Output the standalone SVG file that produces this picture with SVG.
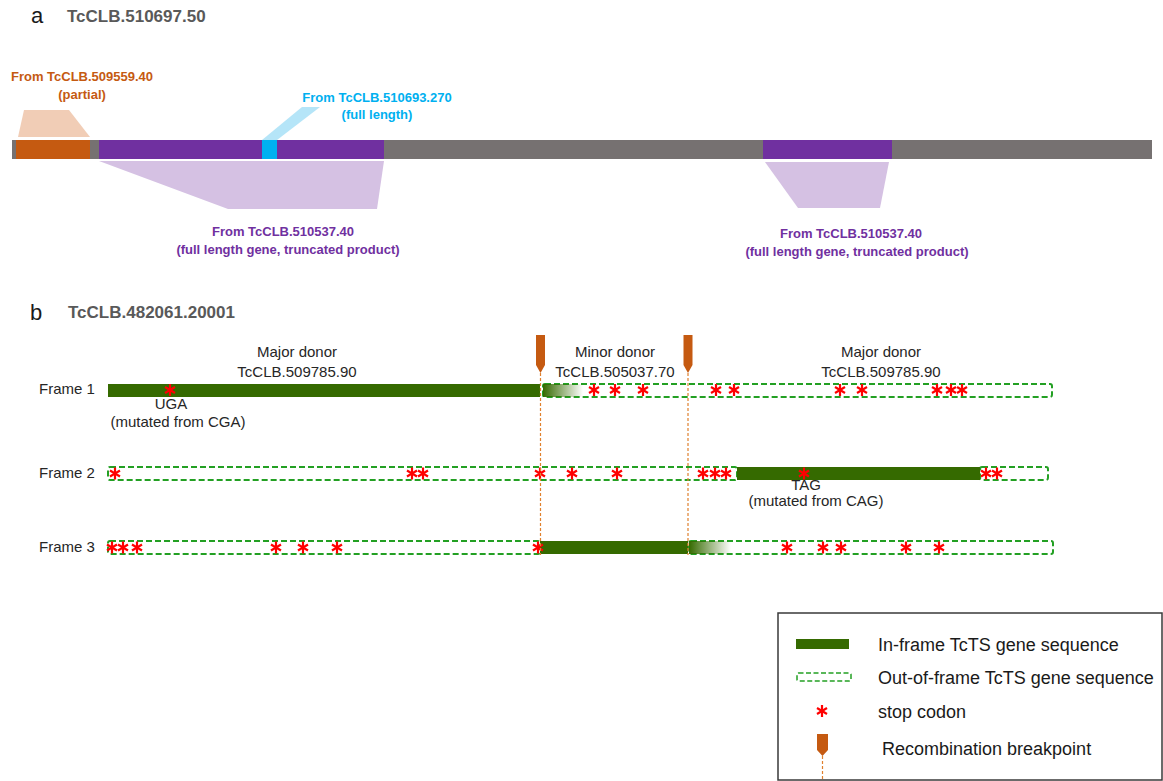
<svg xmlns="http://www.w3.org/2000/svg" xmlns:xlink="http://www.w3.org/1999/xlink" width="1163" height="781" viewBox="0 0 1163 781">
<style>
text{font-family:"Liberation Sans",Arial,sans-serif;}
.lbl{font-size:15px;fill:#262626;}
.big{font-size:22px;fill:#1a1a1a;}
.ttl{font-size:17px;font-weight:bold;fill:#595959;}
.bo{font-size:13px;font-weight:bold;}
.leg{font-size:18px;fill:#1a1a1a;}
.inf{fill:#356A00;}
.oof{fill:#ffffff;stroke:#23A023;stroke-width:2;stroke-dasharray:6 3;}
.bp{fill:#C55A11;}
.bpl{stroke:#E0802E;stroke-width:1.2;stroke-dasharray:3 2;fill:none;}
.st{stroke:#FF0000;stroke-width:2.2;stroke-linecap:butt;}
</style>
<defs>
<g id="stop" class="st"><line x1="0" y1="-6" x2="0" y2="6"/><line x1="-5" y1="-3" x2="5" y2="3"/><line x1="-5" y1="3" x2="5" y2="-3"/></g>
<linearGradient id="fade" x1="0" y1="0" x2="1" y2="0"><stop offset="0" stop-color="#356A00"/><stop offset="1" stop-color="#356A00" stop-opacity="0"/></linearGradient>
</defs>
<rect width="1163" height="781" fill="#ffffff"/>

<!-- Panel a -->
<g id="panel-a-title">
<text class="big" x="31" y="23">a</text>
<text class="ttl" x="67" y="22">TcCLB.510697.50</text>
</g>
<g id="connectors-a">
<polygon points="24,110 69,110 90,137 18,137" fill="#F1CDB6"/>
<polygon points="262,140 277,140 320,107 302,107" fill="#B5E5F8"/>
<polygon points="99,161 384,161 377,209 228,209" fill="#D5C1E3"/>
<polygon points="765,162 889,162 880,208 798,208" fill="#D5C1E3"/>
</g>
<g id="bar-a">
<rect x="12" y="140" width="1140" height="19" fill="#767171"/>
<rect x="16" y="140" width="74" height="19" fill="#C55A11"/>
<rect x="99" y="140" width="285" height="19" fill="#7030A0"/>
<rect x="262" y="140" width="15" height="19" fill="#00B0F0"/>
<rect x="763" y="140" width="129" height="19" fill="#7030A0"/>
</g>
<g id="label-orange">
<text class="bo" x="82" y="81" text-anchor="middle" fill="#C55A11">From TcCLB.509559.40</text>
<text class="bo" x="82" y="99" text-anchor="middle" fill="#C55A11">(partial)</text>
</g>
<g id="label-blue">
<text class="bo" x="377" y="102" text-anchor="middle" fill="#00B0F0">From TcCLB.510693.270</text>
<text class="bo" x="377" y="119" text-anchor="middle" fill="#00B0F0">(full length)</text>
</g>
<g id="label-purple-1">
<text class="bo" x="283" y="236" text-anchor="middle" fill="#7030A0">From TcCLB.510537.40</text>
<text class="bo" x="288" y="254" text-anchor="middle" fill="#7030A0">(full length gene, truncated product)</text>
</g>
<g id="label-purple-2">
<text class="bo" x="851" y="238" text-anchor="middle" fill="#7030A0">From TcCLB.510537.40</text>
<text class="bo" x="857" y="256" text-anchor="middle" fill="#7030A0">(full length gene, truncated product)</text>
</g>

<!-- Panel b -->
<g id="panel-b-title">
<text class="big" x="30" y="320">b</text>
<text class="ttl" x="68" y="318">TcCLB.482061.20001</text>
</g>
<g id="donor-labels">
<text class="lbl" x="297" y="357" text-anchor="middle">Major donor</text>
<text class="lbl" x="297" y="377" text-anchor="middle">TcCLB.509785.90</text>
<text class="lbl" x="615" y="357" text-anchor="middle">Minor donor</text>
<text class="lbl" x="615" y="377" text-anchor="middle">TcCLB.505037.70</text>
<text class="lbl" x="881" y="357" text-anchor="middle">Major donor</text>
<text class="lbl" x="881" y="377" text-anchor="middle">TcCLB.509785.90</text>
</g>

<g id="frame1">
<text class="lbl" x="39" y="394">Frame 1</text>
<rect class="oof" x="543" y="384" width="509" height="13" rx="2"/>
<rect x="543" y="384" width="40" height="13" fill="url(#fade)"/>
<rect class="inf" x="108" y="384" width="432" height="13"/>
<use href="#stop" x="170" y="390"/>
<use href="#stop" x="594" y="390"/>
<use href="#stop" x="615" y="390"/>
<use href="#stop" x="643" y="390"/>
<use href="#stop" x="716" y="390"/>
<use href="#stop" x="734" y="390"/>
<use href="#stop" x="840" y="390"/>
<use href="#stop" x="862" y="390"/>
<use href="#stop" x="937" y="390"/>
<use href="#stop" x="951" y="390"/>
<use href="#stop" x="962" y="390"/>
<text class="lbl" x="171" y="409" text-anchor="middle">UGA</text>
<text class="lbl" x="178" y="427" text-anchor="middle">(mutated from CGA)</text>
</g>

<g id="frame2">
<text class="lbl" x="39" y="478">Frame 2</text>
<rect class="oof" x="108" y="467" width="629" height="13" rx="2"/>
<rect class="oof" x="980" y="467" width="68" height="13" rx="2"/>
<rect class="inf" x="737" y="467" width="243" height="13"/>
<use href="#stop" x="115" y="473.5"/>
<use href="#stop" x="412" y="473.5"/>
<use href="#stop" x="423" y="473.5"/>
<use href="#stop" x="540" y="473.5"/>
<use href="#stop" x="572" y="473.5"/>
<use href="#stop" x="617" y="473.5"/>
<use href="#stop" x="703" y="473.5"/>
<use href="#stop" x="715" y="473.5"/>
<use href="#stop" x="726" y="473.5"/>
<use href="#stop" x="804" y="473.5"/>
<use href="#stop" x="986" y="473.5"/>
<use href="#stop" x="997" y="473.5"/>
<text class="lbl" x="806" y="490" text-anchor="middle">TAG</text>
<text class="lbl" x="816" y="506" text-anchor="middle">(mutated from CAG)</text>
</g>

<g id="frame3">
<text class="lbl" x="39" y="552">Frame 3</text>
<rect class="oof" x="108" y="541" width="432" height="13" rx="2"/>
<rect class="oof" x="689" y="541" width="364" height="13" rx="2"/>
<rect x="689" y="541" width="42" height="13" fill="url(#fade)"/>
<rect class="inf" x="540" y="541" width="148" height="13"/>
<use href="#stop" x="112" y="547.5"/>
<use href="#stop" x="123" y="547.5"/>
<use href="#stop" x="137" y="547.5"/>
<use href="#stop" x="276" y="547.5"/>
<use href="#stop" x="303" y="547.5"/>
<use href="#stop" x="337" y="547.5"/>
<use href="#stop" x="538" y="547.5"/>
<use href="#stop" x="787" y="547.5"/>
<use href="#stop" x="823" y="547.5"/>
<use href="#stop" x="841" y="547.5"/>
<use href="#stop" x="906" y="547.5"/>
<use href="#stop" x="939" y="547.5"/>
</g>

<g id="connectors-b">
<line class="bpl" x1="540.5" y1="373" x2="540.5" y2="555"/>
<line class="bpl" x1="688" y1="373" x2="688" y2="555"/>
</g>
<g id="breakpoint-1">
<polygon class="bp" points="536,335 545,335 545,365 540.5,373 536,365"/>
</g>
<g id="breakpoint-2">
<polygon class="bp" points="683.5,335 692.5,335 692.5,365 688,373 683.5,365"/>
</g>

<!-- Legend -->
<g id="legend">
<rect x="778" y="613" width="384" height="167" fill="none" stroke="#3a3a3a" stroke-width="1.5"/>
<rect class="inf" x="796" y="639" width="53" height="10"/>
<text class="leg" x="878" y="651">In-frame TcTS gene sequence</text>
<rect class="oof" x="797" y="673" width="54" height="8" rx="1.5" style="stroke-width:1.5;stroke-dasharray:5 2.5"/>
<text class="leg" x="878" y="684">Out-of-frame TcTS gene sequence</text>
<use href="#stop" x="822" y="711"/>
<text class="leg" x="878" y="718">stop codon</text>
<polygon class="bp" points="817,734 828,734 828,750 822.5,756 817,750"/>
<line class="bpl" x1="822.5" y1="756" x2="822.5" y2="780"/>
<text class="leg" x="882" y="755">Recombination breakpoint</text>
</g>
</svg>
